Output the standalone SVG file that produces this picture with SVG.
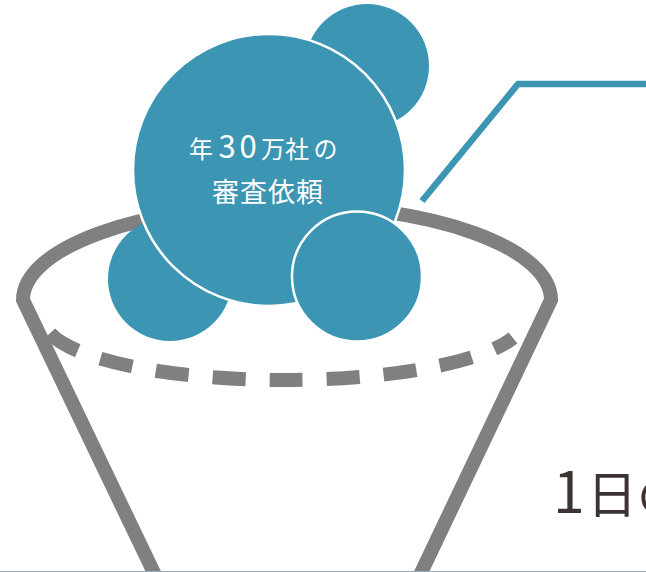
<svg xmlns="http://www.w3.org/2000/svg" width="646" height="572" viewBox="0 0 646 572">
<style>
.funnel{fill:none;stroke:#808080;stroke-width:14;}
.dash{fill:none;stroke:#808080;stroke-width:14;stroke-dasharray:33 24;}
.bubble{fill:#3b95b3;}
.bubble-o{fill:#3b95b3;stroke:#ffffff;stroke-width:2.5;}
.lbl{font-family:"Noto Sans CJK JP","Noto Sans",sans-serif;fill:#ffffff;}
.big{font-family:"Noto Sans CJK JP","Noto Sans",sans-serif;fill:#3d3333;}
.conn{fill:none;stroke:#3b95b3;stroke-width:6.5;}
</style>
<rect width="646" height="572" fill="#ffffff"/>
<g id="funnel">
<path class="funnel" d="M 155 575 L 23 300 A 264 95 0 0 1 551 300 L 420 575"/>
<path class="dash" d="M 50 333.3 A 240 60 0 0 0 513 338"/>
</g>
<g id="bubble-top">
<circle class="bubble" cx="367" cy="66" r="62"/>
</g>
<g id="bubble-left">
<circle class="bubble" cx="170" cy="279" r="62"/>
</g>
<g id="bubble-main">
<circle class="bubble-o" cx="269" cy="170" r="136"/>
<text class="lbl" y="158" font-size="24"><tspan x="189">年</tspan><tspan x="218.5 239.5" font-size="31">30</tspan><tspan x="261 285 313.5">万社の</tspan></text>
<text class="lbl" y="202" font-size="27" x="212 240 268 296">審査依頼</text>
</g>
<g id="bubble-right">
<circle class="bubble-o" cx="357" cy="276.5" r="65"/>
</g>
<g id="connectors">
<polyline class="conn" points="422,201 518,84 646,84"/>
</g>
<g id="caption">
<text class="big" y="513"><tspan x="553" font-size="57">1</tspan><tspan x="587" font-size="50">日の</tspan></text>
</g>
<line x1="0" y1="571.5" x2="646" y2="571.5" stroke="#9aabb7" stroke-width="1"/>
</svg>
